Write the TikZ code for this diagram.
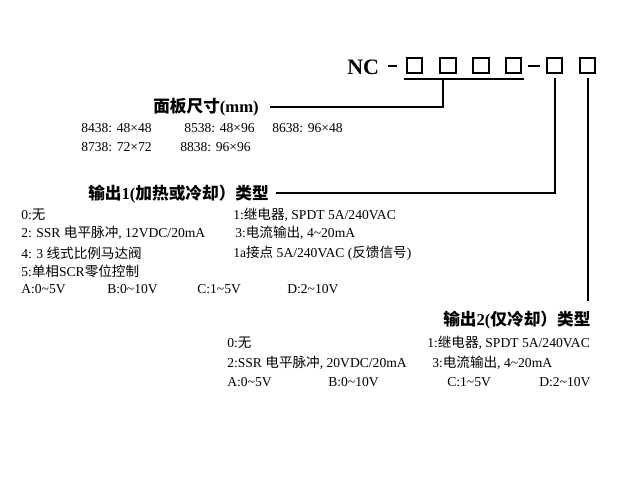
\documentclass[tikz,border=0pt]{standalone}
\usepackage{fontspec}
\setmainfont{Liberation Serif}
\newfontfamily\cjk{Noto Sans CJK SC}
\usetikzlibrary{positioning, calc}
\tikzset{
    digitbox/.style={rectangle, draw, line width=1.5pt, minimum size=11.8pt, inner sep=0pt},
    lead/.style={line width=1.5pt},
    heading/.style={anchor=west, inner sep=0pt, font=\fontsize{12.5}{15}\selectfont\bfseries},
    item/.style={anchor=west, inner sep=0pt, font=\fontsize{10.2}{12}\selectfont}
}
\begin{document}
\begin{tikzpicture}[x=0.75pt, y=-0.75pt]
    \useasboundingbox (0,0) rectangle (640,480);

    % Model code
    \node[anchor=west, inner sep=0pt, font=\fontsize{16.5}{18}\selectfont\bfseries] (nc) at (347,67) {NC};
    \foreach \i/\x in {1/414.5, 2/448, 3/481, 4/513.5, 5/554.5, 6/587.5}
        \node[digitbox] (box\i) at (\x,65.5) {};
    \draw[lead] ($(box1.west)+(-18,0)$) -- ($(box1.west)+(-9,0)$);
    \draw[lead] ($(box4.east)+(6,0)$) -- ($(box5.west)+(-6,0)$);

    % Panel size
    \node[heading] (panel) at (153,107) {{\cjk 面板尺寸}(mm)};
    \node[item] (sz1) at (81,128) {8438: 48×48};
    \node[item] (sz2) at (184,128) {8538: 48×96};
    \node[item] (sz3) at (272,128) {8638: 96×48};
    \node[item] (sz4) at (81,147) {8738: 72×72};
    \node[item] (sz5) at (180,147) {8838: 96×96};

    % Output 1
    \node[heading] (out1) at (88,194) {{\cjk 输出}1({\cjk 加热或冷却）类型}};
    \node[item] (o1none) at (21,215) {0:{\cjk 无}};
    \node[item] (o1relay) at (233,215) {1:{\cjk 继电器}, SPDT 5A/240VAC};
    \node[item] (o1ssr) at (21,233) {2: SSR {\cjk 电平脉冲}, 12VDC/20mA};
    \node[item] (o1cur) at (235,233) {3:{\cjk 电流输出}, 4\textasciitilde20mA};
    \node[item] (o1valve) at (21,253) {4: 3 {\cjk 线式比例马达阀}};
    \node[item] (o1fb) at (233,253) {1a{\cjk 接点} 5A/240VAC ({\cjk 反馈信号})};
    \node[item] (o1scr) at (21,271) {5:{\cjk 单相}SCR{\cjk 零位控制}};
    \foreach \v/\x [count=\i] in {{A:0\textasciitilde5V}/21, {B:0\textasciitilde10V}/107, {C:1\textasciitilde5V}/197, {D:2\textasciitilde10V}/287}
        \node[item] (o1v\i) at (\x,289) {\v};

    % Output 2
    \node[heading] (out2) at (443,320) {{\cjk 输出}2({\cjk 仅冷却）类型}};
    \node[item] (o2none) at (227,343) {0:{\cjk 无}};
    \node[item] (o2relay) at (427,343) {1:{\cjk 继电器}, SPDT 5A/240VAC};
    \node[item] (o2ssr) at (227,363) {2:SSR {\cjk 电平脉冲}, 20VDC/20mA};
    \node[item] (o2cur) at (432,363) {3:{\cjk 电流输出}, 4\textasciitilde20mA};
    \foreach \v/\x [count=\i] in {{A:0\textasciitilde5V}/227, {B:0\textasciitilde10V}/328, {C:1\textasciitilde5V}/447, {D:2\textasciitilde10V}/539}
        \node[item] (o2v\i) at (\x,382) {\v};

    % Leader lines
    \coordinate (panelknee) at (443,79);
    \draw[lead] ($(box1.south west)+(-2,5)$) -- ($(box4.south east)+(2,5)$);
    \draw[lead] ($(panel.east)+(11,0)$) -| (panelknee);
    \draw[lead] ($(out1.east)+(7,-1)$) -| ($(box5.south)+(0,4)$);
    \draw[lead] ($(box6.south)+(0,4)$) -- ($(box6.south |- out2.north)+(0,-10)$);
\end{tikzpicture}
\end{document}
